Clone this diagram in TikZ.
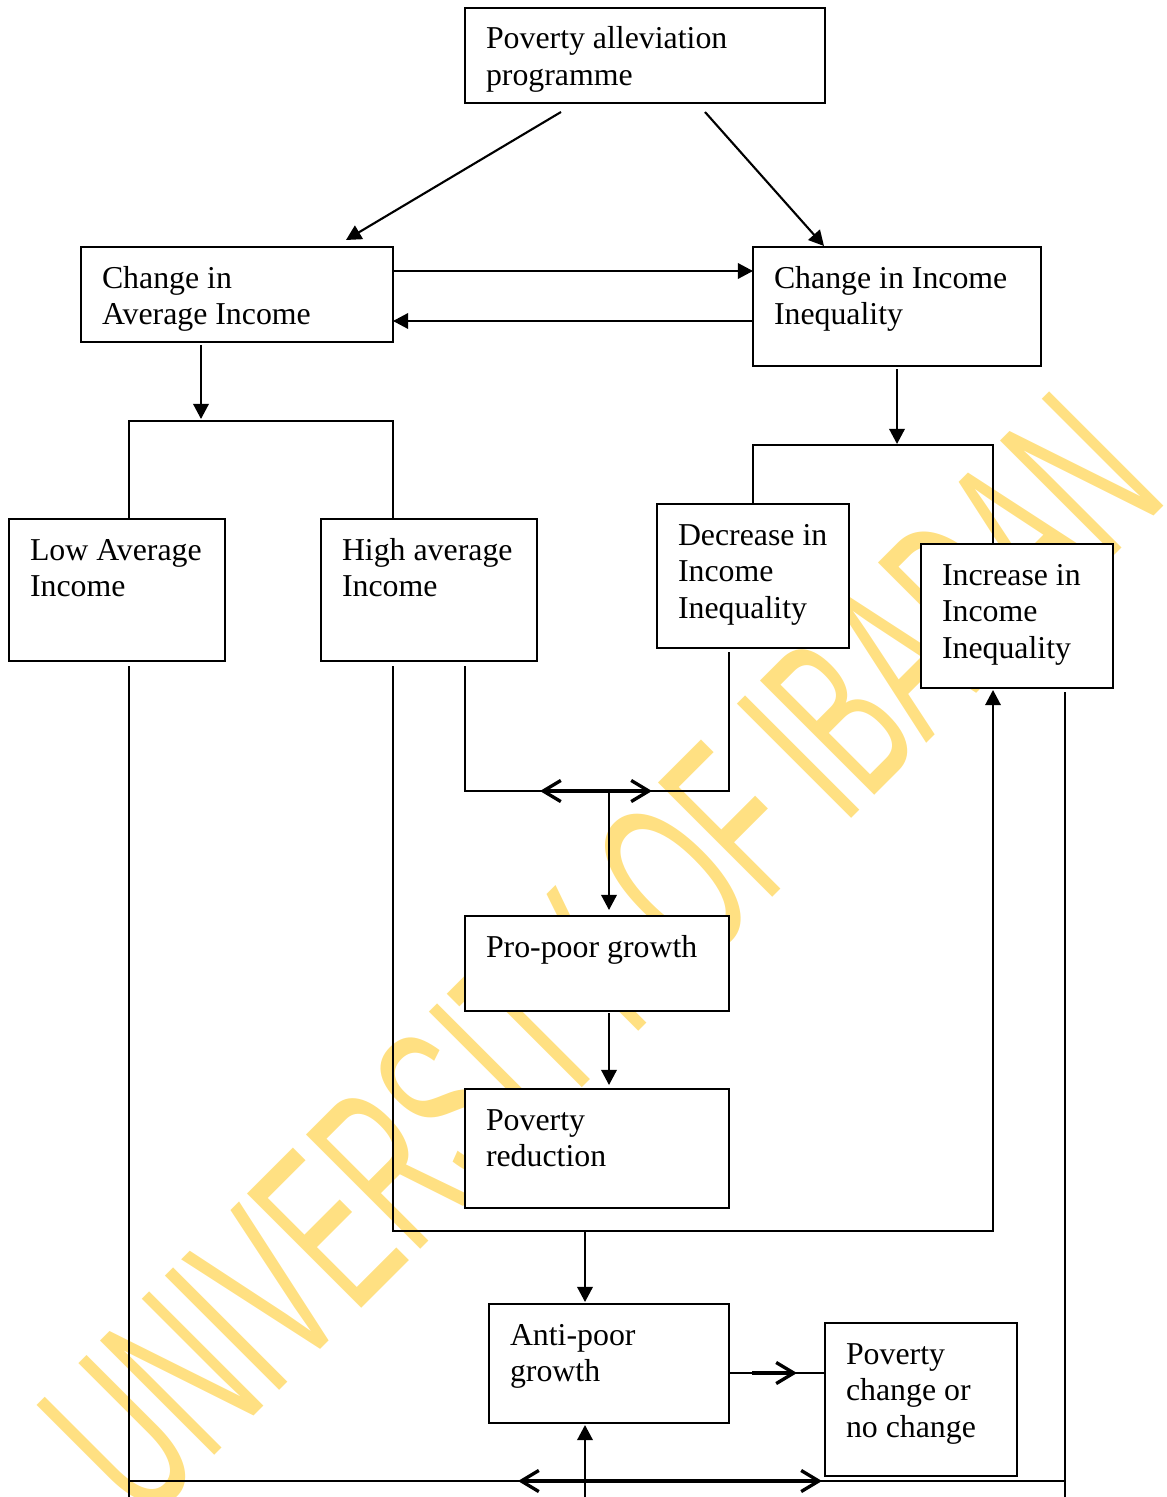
\documentclass[tikz,border=0pt]{standalone}
\usepackage{fontspec}
\usepackage{graphicx}
\setmainfont{Liberation Serif}
\newfontfamily\wmfont{Liberation Sans}
\usetikzlibrary{arrows.meta,calc}
\definecolor{wmyellow}{RGB}{255,224,130}
\newcommand\mkbox[6]{%
  \node[box, minimum width=#4*0.01cm, minimum height=#5*0.01cm] (#1) at (#2,#3) {};
  \node[txt] (#1-t) at ($(#1.north west)+(21,41)$) {\parbox[t]{\dimexpr 0.1mm*#4-2.1mm\relax}{\raggedright #6}};}
\begin{document}
\begin{tikzpicture}[x=0.01cm,y=-0.01cm,
  box/.style={draw, fill=white, line width=0.65pt, anchor=north west, inner sep=0pt, outer sep=0pt},
  txt/.style={anchor=base west, inner sep=0pt, outer sep=0pt, font=\fontsize{9.05pt}{10.5pt}\selectfont},
  ln/.style={line width=0.5pt},
  arr/.style={line width=0.6pt, -{Triangle[length=4.3pt,width=4.4pt]}},
  barb/.style={line width=0.95pt, -{Straight Barb[length=5pt,width=6pt]}},
  wmtext/.style={text=wmyellow, font=\wmfont\fontsize{66.8pt}{72pt}\selectfont, inner sep=0pt, outer sep=0pt}]
\useasboundingbox (0,0) rectangle (1167,1497);
\begin{scope}
  \clip (0,0) rectangle (1167,1497);
  \node[wmtext, rotate=45, anchor=base west] (wm) at (144,1526) {\scalebox{0.53}[1]{UNIVERSITY OF IBADAN}};
\end{scope}

\mkbox{pap}{465}{8}{360}{95}{Poverty alleviation\\programme}
\mkbox{cai}{81}{247}{312}{95}{Change in\\Average Income}
\mkbox{cii}{753}{247}{288}{119}{Change in Income\\Inequality}
\mkbox{lai}{9}{519}{216}{142}{Low Average\\Income}
\mkbox{hai}{321}{519}{216}{142}{High average\\Income}
\mkbox{dii}{657}{504}{192}{144}{Decrease in\\Income\\Inequality}
\mkbox{iii}{921}{544}{192}{144}{Increase in\\Income\\Inequality}
\mkbox{ppg}{465}{916}{264}{95}{Pro-poor growth}
\mkbox{pr}{465}{1089}{264}{119}{Poverty\\reduction}
\mkbox{apg}{489}{1304}{240}{119}{Anti-poor\\growth}
\mkbox{pcn}{825}{1323}{192}{153}{Poverty\\change or\\no change}

\coordinate (j1) at (609,791);
\coordinate (j2) at (585,1231);
\coordinate (j3) at (585,1481);
\coordinate (bl) at (129,1497);
\coordinate (br) at (1065,1497);
\coordinate (bm) at (585,1497);

% top level
\draw[arr] ($(pap.south)+(-84,9)$) -- ($(cai.north)+(109,-7)$);
\draw[arr] ($(pap.south)+(60,9)$) -- ($(cii.north)+(-73,-1)$);
\draw[arr] ($(cai.north east)+(0,24)$) -- ($(cii.north west)+(0,24)$);
\draw[arr] ($(cii.north west)+(0,74)$) -- ($(cai.north east)+(0,74)$);

% brackets
\draw[arr] ($(cai.south)+(-36,3)$) -- ($(cai.south)+(-36,77)$);
\draw[ln] ($(lai.north west)+(120,0)$) |- ($(hai.north west)+(72,-98)$) -- ($(hai.north west)+(72,0)$);
\draw[arr] ($(cii.south)+(0,3)$) -- ($(cii.south)+(0,78)$);
\draw[ln] ($(dii.north west)+(96,0)$) |- ($(iii.north west)+(72,-99)$) -- ($(iii.north west)+(72,0)$);

% middle junction
\draw[ln] ($(hai.south west)+(144,5)$) |- ($(dii.south west)+(72,143)$) -- ($(dii.south west)+(72,4)$);
\draw[barb] (j1) -- ++(-69,0);
\draw[barb] (j1) -- ++(43,0);
\draw[arr] (j1) -- ($(ppg.north)+(12,-6)$);
\draw[arr] ($(ppg.south)+(12,2)$) -- ($(pr.north)+(12,-4)$);

% loop from high average income to increase in inequality
\draw[line width=0.55pt, -{Triangle[length=4.3pt,width=4.4pt]}] ($(hai.south west)+(72,5)$) |- ($(iii.south west)+(72,543)$) -- ($(iii.south west)+(72,2)$);
\draw[arr] (j2) -- ($(apg.north)+(-24,-2)$);

% outer lines
\draw[ln] ($(lai.south west)+(120,5)$) -- (bl);
\draw[ln] ($(iii.south)+(48,4)$) -- (br);
\draw[ln] (bl |- j3) -- (br |- j3);
\draw[barb] (j3) -- ++(-67,0);
\draw[barb] (j3) -- ++(237,0);
\draw[arr] (bm) -- ($(apg.south)+(-24,2)$);

% anti-poor to poverty change
\draw[ln] ($(apg.north east)+(0,69)$) -- ($(pcn.north west)+(0,50)$);
\draw[barb] ($(apg.north east)+(23,69)$) -- ($(apg.north east)+(68,69)$);
\end{tikzpicture}
\end{document}
